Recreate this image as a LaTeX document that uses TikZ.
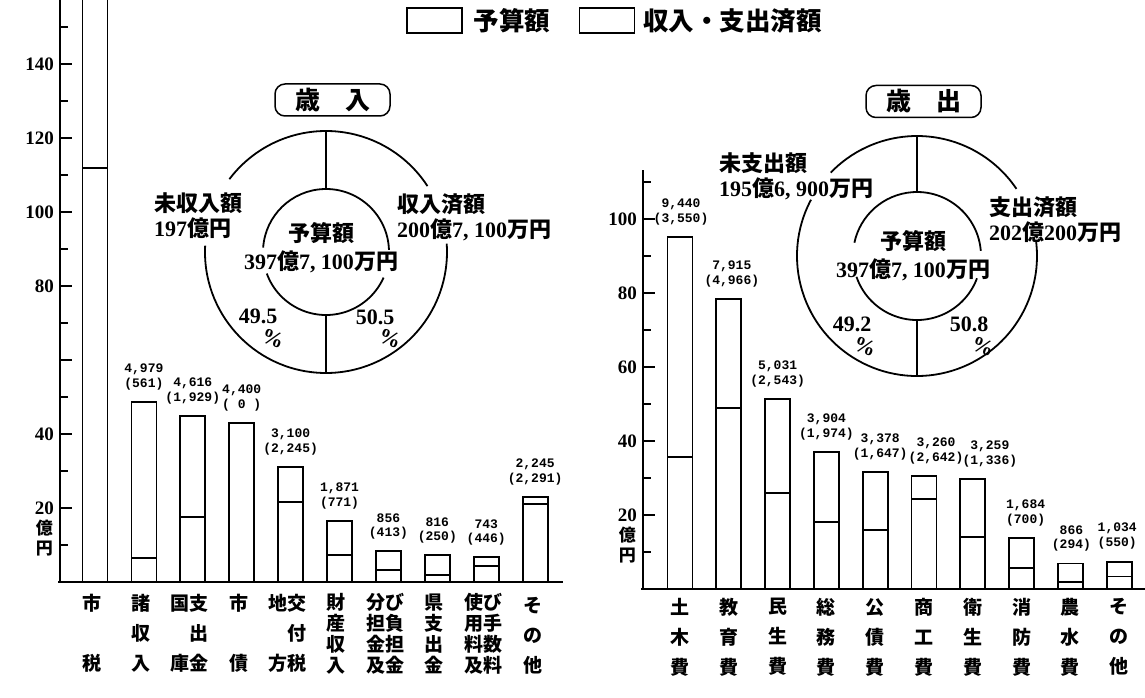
\documentclass[tikz,border=0pt]{standalone}
\usepackage{fontspec}
\setmainfont{Liberation Serif}
\newfontfamily\jp{Noto Sans CJK JP}
\newfontfamily\mono{Liberation Mono}
\newcommand{\J}[1]{{\jp\bfseries #1}}
\usetikzlibrary{positioning}

\tikzset{
  axis/.style={line width=1.8pt},
  bar/.style={draw, line width=1.8pt, fill=white},
  ring/.style={line width=1.8pt},
  keybox/.style={draw, line width=1.4pt, minimum width=55pt, minimum height=25pt, inner sep=0pt},
  keytxt/.style={inner sep=2pt, font=\jp\bfseries\fontsize{25.5}{27}\selectfont},
  titlebox/.style={draw, line width=1.5pt, rounded corners=10pt, minimum width=115pt,
    minimum height=32pt, inner sep=0pt, font=\jp\bfseries\fontsize{25}{27}\selectfont},
  sidelbl/.style={anchor=west, align=left, inner sep=1pt, font=\bfseries\fontsize{22}{25}\selectfont},
  midlbl/.style={align=center, inner sep=1pt, font=\bfseries\fontsize{22}{28}\selectfont},
  pctlbl/.style={inner sep=0pt, font=\bfseries\fontsize{22}{24}\selectfont},
  ticklbl/.style={anchor=east, inner sep=2pt, font=\bfseries\fontsize{19}{20}\selectfont},
  unitlbl/.style={align=center, inner sep=0pt, font=\jp\bfseries\fontsize{17}{20}\selectfont},
  vallbl/.style={inner sep=0pt, font=\mono\bfseries\fontsize{13}{14}\selectfont},
  catlbl/.style={align=center, inner sep=0pt, font=\jp\bfseries\fontsize{19}{30}\selectfont},
  catlblfour/.style={catlbl, font=\jp\bfseries\fontsize{19}{21}\selectfont},
}

\begin{document}
\begin{tikzpicture}[x=1pt, y=-1pt]
\useasboundingbox (0,0) rectangle (1145,698);

% legend
\node[keybox] (keyplan) at (434.5,20.5) {};
\node[keytxt, right=9pt of keyplan] (keyplantxt) {予算額};
\node[keybox, right=26pt of keyplantxt] (keydone) {};
\node[keytxt, right=6pt of keydone] (keydonetxt) {収入・支出済額};

% ---- revenue bars (left)
\foreach \i/\p/\q in {0/165/112, 1/48.6/6.5, 2/44.9/17.6, 3/43/0, 4/31.1/21.6,
                      5/16.4/7.2, 6/8.3/3.2, 7/7.3/2, 8/6.8/4.3, 9/23/21}
{
  \draw[bar] ({95+48.9*\i-12.5},582) rectangle ({95+48.9*\i+12.5},{582-3.7*\p});
  \draw[line width=1.8pt] ({95+48.9*\i-12.5},{582-3.7*\q}) -- ++(25,0);
}
\foreach \i/\p/\a/\b in {1/48.6/{4,979}/(561), 2/44.9/{4,616}/{(1,929)},
                         3/43/{4,400}/{( 0 )}, 4/31.1/{3,100}/{(2,245)},
                         5/16.4/{1,871}/(771), 6/8.3/856/(413), 7/7.3/816/(250),
                         8/6.8/743/(446), 9/23/{2,245}/{(2,291)}}
{
  \node[vallbl] (rva\i) at ({95+48.9*\i},{582-3.7*\p-33}) {\a};
  \node[vallbl] (rvb\i) at ({95+48.9*\i},{582-3.7*\p-18}) {\b};
}
\draw[axis] (60,582) -- (60,-2);
\draw[axis] (58,582) -- (563,582);
\foreach \v in {10,20,...,150} \draw[axis] (60,{582-3.7*\v}) -- ++(8,0);
\foreach \v in {20,40,...,140} \draw[axis] (60,{582-3.7*\v}) -- ++(12,0);
\foreach \v in {20,40,80,100,120,140} \node[ticklbl] (ry\v) at (56,{582-3.7*\v}) {\v};
\node[unitlbl, below=3pt of ry20] (runit) {億\\円};

\node[catlbl] (rc0) at (92,633) {市\\\mbox{}\\税};
\node[catlbl] (rc1) at (141,633) {諸\\収\\入};
\node[catlbl] (rc2) at (189,633) {国支\\\phantom{国}出\\庫金};
\node[catlbl] (rc3) at (239,633) {市\\\mbox{}\\債};
\node[catlbl] (rc4) at (287,633) {地交\\\phantom{地}付\\方税};
\node[catlblfour] (rc5) at (336,634) {財\\産\\収\\入};
\node[catlblfour] (rc6) at (385,634) {分び\\担負\\金担\\及金};
\node[catlblfour] (rc7) at (434,634) {県\\支\\出\\金};
\node[catlblfour] (rc8) at (483,634) {使び\\用手\\料数\\及料};
\node[catlbl] (rc9) at (533,636) {そ\\の\\他};

% ---- expenditure bars (right)
\foreach \i/\p/\q in {0/95.1/35.7, 1/78.4/48.9, 2/51.4/25.9, 3/37/18.1, 4/31.6/15.9,
                      5/30.5/24.3, 6/29.7/14.1, 7/13.8/5.7, 8/6.9/1.8, 9/7.4/3.4}
{
  \draw[bar] ({680+48.8*\i-12.5},589) rectangle ({680+48.8*\i+12.5},{589-3.7*\p});
  \draw[line width=1.8pt] ({680+48.8*\i-12.5},{589-3.7*\q}) -- ++(25,0);
}
\foreach \i/\p/\d/\a/\b in {0/95.1/1/{9,440}/{(3,550)}, 1/78.4/3/{7,915}/{(4,966)},
                            2/51.4/0/{5,031}/{(2,543)}, 3/37/0/{3,904}/{(1,974)},
                            4/31.6/5/{3,378}/{(1,647)}, 5/30.5/12/{3,260}/{(2,642)},
                            6/29.7/17/{3,259}/{(1,336)}, 7/13.8/4/{1,684}/(700),
                            8/6.9/1/866/(294), 9/7.4/-2/{1,034}/(550)}
{
  \node[vallbl] (eva\i) at ({680+48.8*\i+\d},{589-3.7*\p-33}) {\a};
  \node[vallbl] (evb\i) at ({680+48.8*\i+\d},{589-3.7*\p-18}) {\b};
}
\draw[axis] (643,589) -- (643,170);
\draw[axis] (641,589) -- (1145,589);
\foreach \v in {10,20,...,110} \draw[axis] (643,{589-3.7*\v}) -- ++(8,0);
\foreach \v in {20,40,...,100} \draw[axis] (643,{589-3.7*\v}) -- ++(12,0);
\foreach \v in {20,40,...,100} \node[ticklbl] (ey\v) at (639,{589-3.7*\v}) {\v};
\node[unitlbl, below=3pt of ey20] (eunit) {億\\円};

\foreach \c [count=\i from 0] in {{土\\木\\費}, {教\\育\\費}, {民\\生\\費}, {総\\務\\費},
    {公\\債\\費}, {商\\工\\費}, {衛\\生\\費}, {消\\防\\費}, {農\\水\\費}, {そ\\の\\他}}
  \node[catlbl] (ec\i) at ({680+48.8*\i},637) {\c};

% ---- revenue ring
\coordinate (inc) at (326,252);
\draw[ring] (inc) ++(-33:121) arc[start angle=-33, end angle=-143, radius=121];
\draw[ring] (inc) ++(-177:121) arc[start angle=-177, end angle=-364, radius=121];
\draw[ring] (inc) ++(-2:63) arc[start angle=-2, end angle=-176, radius=63];
\draw[ring] (inc) ++(-200:63) arc[start angle=-200, end angle=-336, radius=63];
\draw[ring] (inc) ++(0,-121) -- ++(0,58);
\draw[ring] (inc) ++(0,63) -- ++(0,58);
\node[titlebox] (intitle) at (332.5,100) {歳　入};
\node[sidelbl] (inleft) at (153,215.5) {\J{未収入額}\\197\J{億円}};
\node[sidelbl] (inright) at (396,217.5) {\J{収入済額}\\200\J{億}7, 100\J{万円}};
\node[midlbl] (inmid) at (321,247.5) {\J{予算額}\\397\J{億}7, 100\J{万円}};
\node[pctlbl] (inpa) at (258,316) {49.5};
\node[pctlbl, rotate=-20] (inpb) at (273,339) {\%};
\node[pctlbl] (inpc) at (375,317) {50.5};
\node[pctlbl, rotate=-20] (inpd) at (390,339) {\%};

% ---- expenditure ring
\coordinate (outc) at (917,256);
\draw[ring] (outc) ++(-34:120) arc[start angle=-34, end angle=-136, radius=120];
\draw[ring] (outc) ++(-152:120) arc[start angle=-152, end angle=-367.6, radius=120];
\draw[ring] (outc) ++(-4.6:64) arc[start angle=-4.6, end angle=-168, radius=64];
\draw[ring] (outc) ++(-199:64) arc[start angle=-199, end angle=-339.6, radius=64];
\draw[ring] (outc) ++(0,-120) -- ++(0,56);
\draw[ring] (outc) ++(0,64) -- ++(0,56);
\node[titlebox] (outtitle) at (923.5,101.5) {歳　出};
\node[sidelbl] (outleft) at (718,176) {\J{未支出額}\\195\J{億}6, 900\J{万円}};
\node[sidelbl] (outright) at (988,219.5) {\J{支出済額}\\202\J{億}200\J{万円}};
\node[midlbl] (outmid) at (913,256) {\J{予算額}\\397\J{億}7, 100\J{万円}};
\node[pctlbl] (outpa) at (852,324) {49.2};
\node[pctlbl, rotate=-20] (outpb) at (865,347) {\%};
\node[pctlbl] (outpc) at (969,324) {50.8};
\node[pctlbl, rotate=-20] (outpd) at (983,347) {\%};
\end{tikzpicture}
\end{document}
